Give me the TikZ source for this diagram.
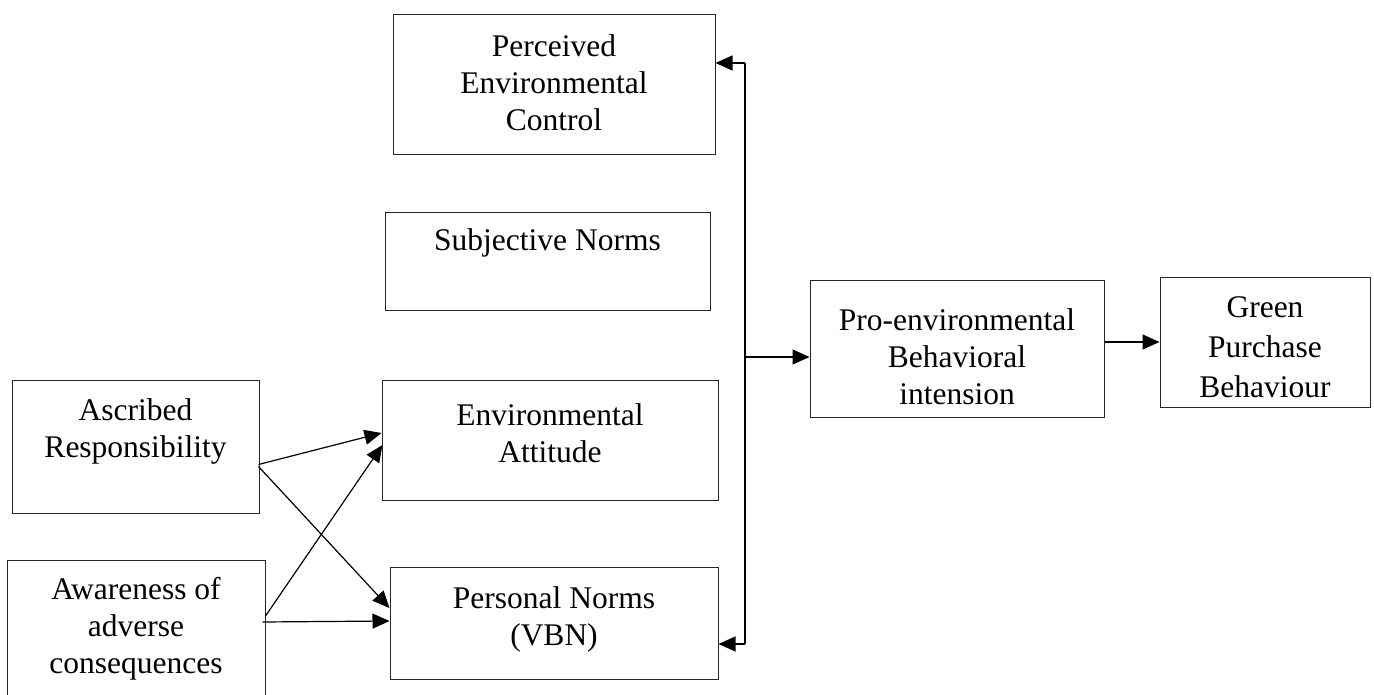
\documentclass[tikz,border=0pt]{standalone}
\usepackage{fontspec}
\setmainfont{Liberation Serif}
\usetikzlibrary{arrows.meta}
\tikzset{
  box/.style={draw=black!85, line width=1pt, inner sep=0pt, rectangle},
  txt/.style={inner sep=0pt, align=center, font=\fontsize{31.5}{37}\selectfont},
  arr/.style={line width=1.2pt, -{Triangle[length=17pt,width=15pt]}},
  bracket/.style={line width=2pt}
}
\begin{document}
\begin{tikzpicture}[x=1pt,y=-1pt]
\useasboundingbox (0,0) rectangle (1374,695);
% boxes
\node[box, minimum width=322pt, minimum height=140pt] (pec) at (554,85) {};
\node[txt] (pect) at (554,83) {Perceived\\Environmental\\Control};
\node[box, minimum width=325pt, minimum height=97pt] (sn) at (547.5,261.5) {};
\node[txt] (snt) at (547.5,243) {Subjective Norms};
\node[box, minimum width=247pt, minimum height=133pt] (ar) at (135.5,446.5) {};
\node[txt] (art) at (135.5,431) {Ascribed\\Responsibility};
\node[box, minimum width=258pt, minimum height=142pt] (aw) at (136,631) {};
\node[txt] (awt) at (136,629) {Awareness of\\adverse\\consequences};
\node[box, minimum width=336pt, minimum height=120pt] (ea) at (550,440) {};
\node[txt] (eat) at (550,433) {Environmental\\Attitude};
\node[box, minimum width=328pt, minimum height=112pt] (pn) at (554,623) {};
\node[txt] (pnt) at (554,619) {Personal Norms\\(VBN)};
\node[box, minimum width=294pt, minimum height=136pt] (pro) at (957,349) {};
\node[txt] (prot) at (957,357) {Pro-environmental\\Behavioral\\intension};
\node[box, minimum width=210pt, minimum height=129pt] (gp) at (1265,342.5) {};
\node[txt, font=\fontsize{31.5}{40}\selectfont] (gpt) at (1265,347) {Green\\Purchase\\Behaviour};
% left connectors
\draw[arr] ([shift={(-1,18)}]ar.east) -- ([shift={(0,-7)}]ea.west);
\draw[arr] ([shift={(-1,20)}]ar.east) -- ([shift={(0,-15)}]pn.west);
\draw[arr] ([shift={(0,-15)}]aw.east) -- ([shift={(1,5)}]ea.west);
\draw[arr] ([shift={(-3,-9)}]aw.east) -- ([shift={(0,-2)}]pn.west);
% bracket
\coordinate (btop) at (745,63);
\coordinate (bbot) at (745,644);
\coordinate (bmid) at (745,357);
\draw[bracket] (btop) -- (bbot);
\draw[arr] (btop) -- ([shift={(0,-22)}]pec.east);
\draw[arr] (bbot) -- ([shift={(0,21)}]pn.east);
\draw[arr] (bmid) -- ([shift={(0,8)}]pro.west);
% to green purchase
\draw[arr] ([shift={(0,-7)}]pro.east) -- ([shift={(0,-0.5)}]gp.west);
\end{tikzpicture}
\end{document}
